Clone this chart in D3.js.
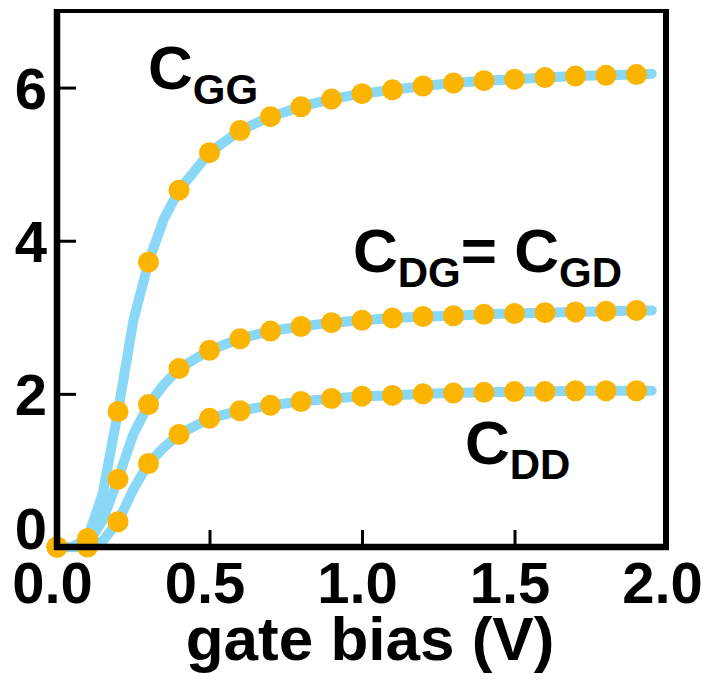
<!DOCTYPE html>
<html>
<head>
<meta charset="utf-8">
<script src="https://cdn.jsdelivr.net/npm/d3@7"></script>
<style>
  html, body { margin: 0; padding: 0; background: #ffffff; }
  svg { display: block; }
  text { font-family: "Liberation Sans", Arial, Helvetica, sans-serif; font-weight: bold; fill: #000; }
</style>
</head>
<body>
<svg id="chart" width="707" height="683"></svg>
<script>
// Gate bias sample points (V) for the markers
const bias = [0.0, 0.1, 0.2, 0.3, 0.4, 0.5, 0.6, 0.7, 0.8, 0.9,
              1.0, 1.1, 1.2, 1.3, 1.4, 1.5, 1.6, 1.7, 1.8, 1.9];
const cGG = [0, 0.11, 1.77, 3.72, 4.66, 5.15, 5.44, 5.62, 5.75, 5.85,
             5.92, 5.97, 6.02, 6.06, 6.09, 6.11, 6.13, 6.15, 6.16, 6.17];
const cDG = [0, 0.04, 0.885, 1.86, 2.33, 2.57, 2.72, 2.82, 2.88, 2.93,
             2.96, 2.99, 3.01, 3.02, 3.04, 3.05, 3.06, 3.07, 3.08, 3.09];
const cDD = [0, 0, 0.33, 1.09, 1.47, 1.68, 1.78, 1.85, 1.90, 1.94,
             1.97, 1.98, 2.00, 2.01, 2.02, 2.03, 2.03, 2.04, 2.04, 2.04];

// Finer sampling for the continuous curves
const biasLine = [0.0, 0.05, 0.1, 0.15, 0.2, 0.25, 0.3, 0.35, 0.4, 0.5, 0.6, 0.7, 0.8, 0.9,
                  1.0, 1.1, 1.2, 1.3, 1.4, 1.5, 1.6, 1.7, 1.8, 1.9, 1.95];
const cGGLine = [0, 0, 0.11, 0.7, 1.77, 2.95, 3.72, 4.28, 4.66, 5.15, 5.44, 5.62, 5.75, 5.85,
                 5.92, 5.97, 6.02, 6.06, 6.09, 6.11, 6.13, 6.15, 6.16, 6.17, 6.18];
const cDGLine = [0, 0, 0.04, 0.35, 0.885, 1.47, 1.86, 2.12, 2.33, 2.57, 2.72, 2.82, 2.88, 2.93,
                 2.96, 2.99, 3.01, 3.02, 3.04, 3.05, 3.06, 3.07, 3.08, 3.09, 3.09];
const cDDLine = [0, 0, 0, 0.08, 0.33, 0.75, 1.09, 1.30, 1.47, 1.68, 1.78, 1.85, 1.90, 1.94,
                 1.97, 1.98, 2.00, 2.01, 2.02, 2.03, 2.03, 2.04, 2.04, 2.04, 2.04];

const xTicks = [0.0, 0.5, 1.0, 1.5, 2.0];
const yTicks = [0, 2, 4, 6];

const svg = d3.select("#chart");
const plot = { left: 57, right: 667, top: 11, bottom: 547 };

const x = d3.scaleLinear().domain([0, 2]).range([plot.left, plot.right]);
const y = d3.scaleLinear().domain([0, 7]).range([plot.bottom, plot.top]);

const lineColor = "#8ad8f8";
const dotColor = "#fbb400";

// Curves
const line = d3.line().x(d => x(d[0])).y(d => y(d[1])).curve(d3.curveLinear);
[cGGLine, cDGLine, cDDLine].forEach(vals => {
  svg.append("path")
    .datum(biasLine.map((b, i) => [b, vals[i]]))
    .attr("d", line)
    .attr("fill", "none")
    .attr("stroke", lineColor)
    .attr("stroke-width", 10)
    .attr("stroke-linejoin", "round")
    .attr("stroke-linecap", "round");
});

// Markers
[cGG, cDG, cDD].forEach(vals => {
  svg.append("g").selectAll("circle")
    .data(bias.map((b, i) => [b, vals[i]]))
    .join("circle")
    .attr("cx", d => x(d[0]))
    .attr("cy", d => y(d[1]))
    .attr("r", 10.5)
    .attr("fill", dotColor);
});

// Frame: top and right edges
svg.append("line")
  .attr("x1", plot.left).attr("x2", plot.right + 2)
  .attr("y1", plot.top).attr("y2", plot.top)
  .attr("stroke", "#000").attr("stroke-width", 4);
svg.append("line")
  .attr("x1", x(2) - 1).attr("x2", x(2) - 1)
  .attr("y1", plot.top - 2).attr("y2", plot.bottom + 3)
  .attr("stroke", "#000").attr("stroke-width", 6);

// Bottom axis (ticks point inward)
const xAxis = svg.append("g")
  .attr("transform", `translate(0,${plot.bottom})`)
  .call(d3.axisBottom(x).tickValues(xTicks).tickSizeInner(-17).tickSizeOuter(0)
        .tickFormat(d3.format(".1f")));
xAxis.select(".domain").attr("stroke", "#000").attr("stroke-width", 6.5)
  .attr("d", `M${plot.left - 3},0H${plot.right + 2}`);
xAxis.selectAll(".tick line").attr("stroke", "#000").attr("stroke-width", 3)
  .attr("y1", -3);
xAxis.selectAll(".tick text")
  .attr("font-size", 58)
  .attr("y", 56)
  .attr("dy", 0)
  .attr("dx", -5)
  .attr("fill", "#000");

// Left axis (ticks point inward)
const yAxis = svg.append("g")
  .attr("transform", `translate(${plot.left},0)`)
  .call(d3.axisLeft(y).tickValues(yTicks).tickSizeInner(-19).tickSizeOuter(0)
        .tickFormat(d3.format("d")));
yAxis.select(".domain").attr("stroke", "#000").attr("stroke-width", 6.5)
  .attr("d", `M0,${plot.top - 2}V${plot.bottom + 3}`);
yAxis.selectAll(".tick line").attr("stroke", "#000").attr("stroke-width", 3)
  .attr("x1", 3);
yAxis.selectAll(".tick text")
  .attr("font-size", 58)
  .attr("x", -10)
  .attr("dy", "0.36em")
  .attr("fill", "#000");
// the zero label sits above the corner so it clears the bias labels
yAxis.selectAll(".tick").filter(d => d === 0).select("text")
  .attr("dy", 0).attr("y", 1);
yAxis.selectAll(".tick").filter(d => d === 0).select("line").remove();
xAxis.selectAll(".tick").filter(d => d === 0 || d === 2).select("line").remove();

// Axis title
svg.append("text")
  .attr("x", 370).attr("y", 660)
  .attr("text-anchor", "middle")
  .attr("font-size", 62)
  .text("gate bias (V)");

// Curve labels
function label(xp, yp, parts) {
  const t = svg.append("text").attr("x", xp).attr("y", yp).attr("font-size", 62);
  let sub = false;
  parts.forEach(p => {
    const isSub = p.sub;
    const ts = t.append("tspan").text(p.t);
    if (isSub) { ts.attr("font-size", 42); if (!sub) ts.attr("dy", 15); }
    else { ts.attr("font-size", 62); if (sub) ts.attr("dy", -15); }
    sub = isSub;
  });
}
label(148, 89, [{t: "C"}, {t: "GG", sub: true}]);
label(353, 272, [{t: "C"}, {t: "DG", sub: true}, {t: "= C"}, {t: "GD", sub: true}]);
label(465, 464, [{t: "C"}, {t: "DD", sub: true}]);
</script>
</body>
</html>
